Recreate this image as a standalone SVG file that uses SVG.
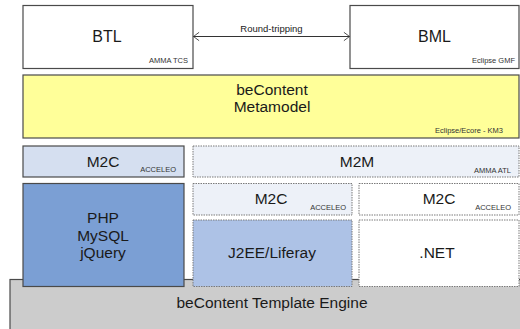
<svg xmlns="http://www.w3.org/2000/svg" width="520" height="329" viewBox="0 0 520 329">
<defs>
<style>
text{font-family:"Liberation Sans",Arial,sans-serif;fill:#1a1a1a}
.big{font-size:15.5px;text-anchor:middle}
.small{font-size:7.5px;text-anchor:end;fill:#333}
.solid{stroke:#4a4a4a;stroke-width:1.2}
.dot{stroke:#7a7a7a;stroke-width:1;stroke-dasharray:1.5 1}
</style>
<marker id="chev" viewBox="0 0 10 14" refX="9" refY="7" markerWidth="7" markerHeight="12" markerUnits="userSpaceOnUse" orient="auto-start-reverse">
<path d="M1 1 L9 7 L1 13" fill="none" stroke="#333" stroke-width="1.2"/>
</marker>
</defs>
<rect width="520" height="329" fill="#ffffff"/>
<g id="engine">
<rect x="10" y="279.5" width="515" height="55" fill="#cccccc" class="solid"/>
<text class="big" x="272" y="308">beContent Template Engine</text>
</g>
<g id="btl">
<rect x="23" y="5.5" width="170" height="63" fill="#ffffff" class="solid"/>
<text class="big" x="107" y="42" style="font-size:16px">BTL</text>
<text class="small" x="188" y="63">AMMA TCS</text>
</g>
<g id="bml">
<rect x="350" y="5.5" width="169" height="63" fill="#ffffff" class="solid"/>
<text class="big" x="434.5" y="42" style="font-size:16px">BML</text>
<text class="small" x="515" y="63">Eclipse GMF</text>
</g>
<g id="metamodel">
<rect x="23" y="75" width="496" height="63" fill="#ffff99" class="solid"/>
<text class="big" x="272" y="95">beContent</text>
<text class="big" x="272" y="112">Metamodel</text>
<text class="small" x="503" y="133">Eclipse/Ecore - KM3</text>
</g>
<g id="m2c-php">
<rect x="23" y="146" width="161" height="31" fill="#d5dff0" class="solid"/>
<text class="big" x="103" y="167">M2C</text>
<text class="small" x="176" y="172">ACCELEO</text>
</g>
<g id="m2m">
<rect x="193" y="146" width="326" height="31" fill="#edf1f8" class="dot"/>
<text class="big" x="357" y="167">M2M</text>
<text class="small" x="511" y="173">AMMA ATL</text>
</g>
<g id="m2c-j2ee">
<rect x="193" y="183.5" width="159" height="31.5" fill="#edf1f8" class="dot"/>
<text class="big" x="271" y="204">M2C</text>
<text class="small" x="346" y="210">ACCELEO</text>
</g>
<g id="m2c-net">
<rect x="359" y="183.5" width="160" height="31.5" fill="#ffffff" class="dot"/>
<text class="big" x="439" y="204">M2C</text>
<text class="small" x="511" y="210">ACCELEO</text>
</g>
<g id="php">
<rect x="23" y="183.5" width="161" height="103" fill="#7b9fd4" class="solid"/>
<text class="big" x="103" y="223">PHP</text>
<text class="big" x="103" y="240.5">MySQL</text>
<text class="big" x="103" y="258">jQuery</text>
</g>
<g id="j2ee">
<rect x="193" y="220" width="159" height="66.5" fill="#adc2e6" class="dot"/>
<text class="big" x="272" y="258">J2EE/Liferay</text>
</g>
<g id="net">
<rect x="359" y="220" width="160" height="66.5" fill="#ffffff" class="dot"/>
<text class="big" x="437" y="258">.NET</text>
</g>
<g id="connectors">
<line x1="193.5" y1="36.5" x2="349.5" y2="36.5" stroke="#333" stroke-width="1.2" marker-start="url(#chev)" marker-end="url(#chev)"/>
<text x="271.5" y="32" style="font-size:9.5px;text-anchor:middle">Round-tripping</text>
</g>
</svg>
